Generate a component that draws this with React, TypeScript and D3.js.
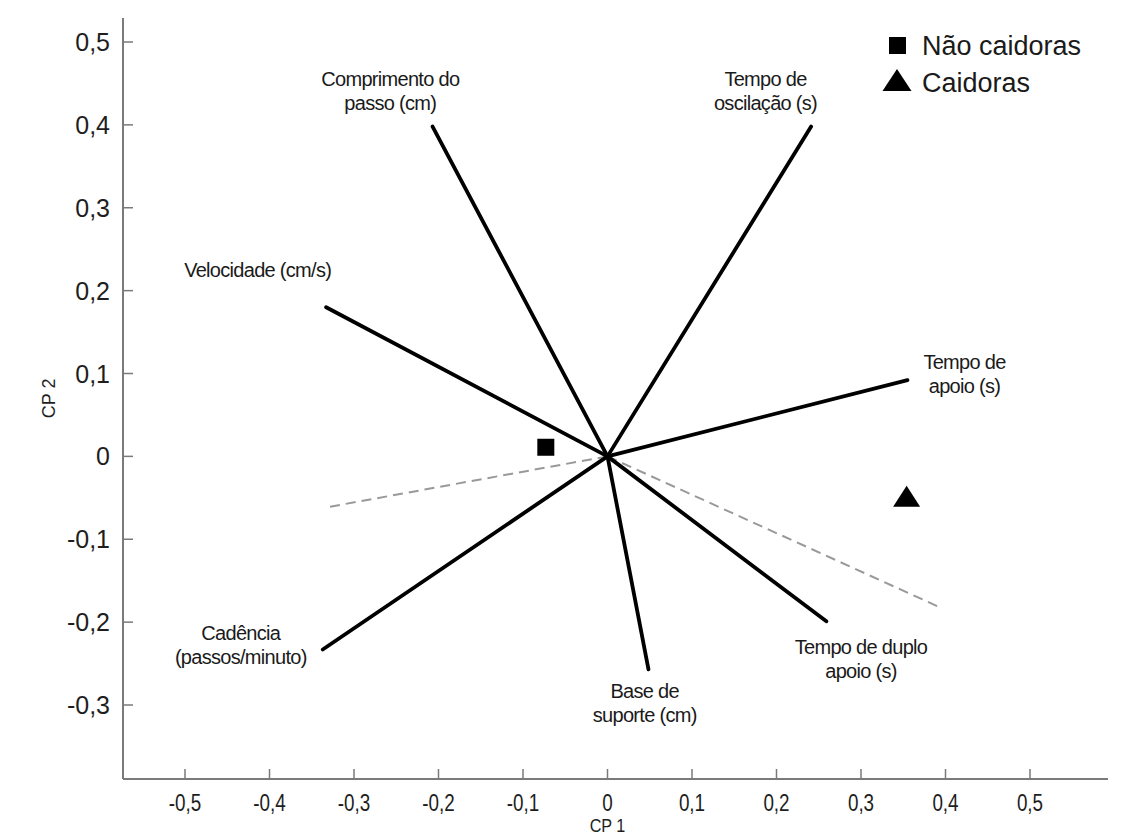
import React from "react";
import * as d3 from "d3";

// ---- Data ----
const variables = [
  "Comprimento do|passo (cm)",
  "Tempo de|oscilação (s)",
  "Velocidade (cm/s)",
  "Tempo de|apoio (s)",
  "Cadência|(passos/minuto)",
  "Base de|suporte (cm)",
  "Tempo de duplo|apoio (s)",
];
const loadingsCP1 = [-0.207, 0.241, -0.333, 0.355, -0.337, 0.0485, 0.259];
const loadingsCP2 = [0.398, 0.398, 0.18, 0.092, -0.233, -0.257, -0.199];

const dashedCP1 = [-0.335, 0.393];
const dashedCP2 = [-0.062, -0.182];

const groups = ["Não caidoras", "Caidoras"];
const groupCP1 = [-0.073, 0.354];
const groupCP2 = [0.011, -0.048];

const xTicks = [-0.5, -0.4, -0.3, -0.2, -0.1, 0, 0.1, 0.2, 0.3, 0.4, 0.5];
const yTicks = [-0.3, -0.2, -0.1, 0, 0.1, 0.2, 0.3, 0.4, 0.5];
const xTickLabels = ["-0,5", "-0,4", "-0,3", "-0,2", "-0,1", "0", "0,1", "0,2", "0,3", "0,4", "0,5"];
const yTickLabels = ["-0,3", "-0,2", "-0,1", "0", "0,1", "0,2", "0,3", "0,4", "0,5"];

// label anchor positions (data units), center of text block
const labelCP1 = [-0.257, 0.187, -0.414, 0.4225, -0.434, 0.044, 0.3];
const labelCP2 = [0.441, 0.441, 0.225, 0.1, -0.228, -0.298, -0.245];

export default function App() {
  const W = 1126;
  const H = 837;
  const x = d3.scaleLinear().domain([-0.5, 0.5]).range([185, 1030]);
  const y = d3.scaleLinear().domain([-0.3, 0.5]).range([705, 42]);
  const axisLeft = 123;
  const axisBottom = 779;
  const axisTop = 18;
  const axisRight = 1108;
  const axisColor = "#7a7a7a";
  const font = "'Liberation Sans', Arial, sans-serif";
  const lineH = 24;

  const sq = 17;
  const triPath = (cx: number, cy: number, w: number, h: number) =>
    `M${cx},${cy - h / 2} L${cx + w / 2},${cy + h / 2} L${cx - w / 2},${cy + h / 2} Z`;

  return (
    <svg width={W} height={H} style={{ position: "absolute", left: 0, top: 0, background: "#fff" }}>
      <rect x={0} y={0} width={W} height={H} fill="#fff" />
      {/* axes */}
      <line x1={axisLeft} y1={axisTop} x2={axisLeft} y2={axisBottom} stroke={axisColor} strokeWidth={2} />
      <line x1={axisLeft} y1={axisBottom} x2={axisRight} y2={axisBottom} stroke={axisColor} strokeWidth={2} />
      {yTicks.map((t, i) => (
        <g key={"yt" + i}>
          <line x1={axisLeft} x2={axisLeft + 10} y1={y(t)} y2={y(t)} stroke={axisColor} strokeWidth={1.5} />
          <text x={110} y={y(t)} dy="0.36em" textAnchor="end" fontFamily={font} fontSize={25} fill="#1e1e1e">
            {yTickLabels[i]}
          </text>
        </g>
      ))}
      {xTicks.map((t, i) => (
        <g key={"xt" + i}>
          <line x1={x(t)} x2={x(t)} y1={axisBottom} y2={axisBottom - 10} stroke={axisColor} strokeWidth={1.5} />
          <text x={x(t)} y={811} textAnchor="middle" fontFamily={font} fontSize={23} fill="#1e1e1e"
            transform={`translate(${x(t)},0) scale(0.82,1) translate(${-x(t)},0)`}>
            {xTickLabels[i]}
          </text>
        </g>
      ))}
      <text x={x(0)} y={832} textAnchor="middle" fontFamily={font} fontSize={18} fill="#1e1e1e"
        transform={`translate(${x(0)},0) scale(0.9,1) translate(${-x(0)},0)`}>CP 1</text>
      <text transform={`translate(55,${y(0.07)}) rotate(-90)`} textAnchor="middle" fontFamily={font} fontSize={18} fill="#1e1e1e">CP 2</text>

      {/* dashed lines */}
      {dashedCP1.map((v, i) => (
        <line key={"d" + i} x1={x(0)} y1={y(0)} x2={x(v)} y2={y(dashedCP2[i])} stroke="#999" strokeWidth={2} strokeDasharray="10,6" />
      ))}
      {/* loading vectors */}
      {loadingsCP1.map((v, i) => (
        <line key={"v" + i} x1={x(0)} y1={y(0)} x2={x(v)} y2={y(loadingsCP2[i])} stroke="#000" strokeWidth={3.8} strokeLinecap="round" />
      ))}
      {/* variable labels */}
      {variables.map((name, i) => {
        const lines = name.split("|");
        const cx = x(labelCP1[i]);
        const cy = y(labelCP2[i]);
        const start = cy - ((lines.length - 1) * lineH) / 2;
        return (
          <text key={"l" + i} textAnchor="middle" fontFamily={font} fontSize={20} fill="#1a1a1a" letterSpacing={-0.7}>
            {lines.map((ln, j) => (
              <tspan key={j} x={cx} y={start + j * lineH} dy="0.35em">{ln}</tspan>
            ))}
          </text>
        );
      })}
      {/* group points */}
      <rect x={x(groupCP1[0]) - sq / 2} y={y(groupCP2[0]) - sq / 2} width={sq} height={sq} fill="#000" />
      <path d={triPath(x(groupCP1[1]), y(groupCP2[1]), 27, 21)} fill="#000" />

      {/* legend */}
      <rect x={889} y={37} width={17} height={17} fill="#000" />
      <text x={922} y={45} dy="0.36em" fontFamily={font} fontSize={27} fill="#1a1a1a">{groups[0]}</text>
      <path d={triPath(897, 80, 29, 22)} fill="#000" />
      <text x={922} y={82} dy="0.36em" fontFamily={font} fontSize={27} fill="#1a1a1a">{groups[1]}</text>
    </svg>
  );
}
